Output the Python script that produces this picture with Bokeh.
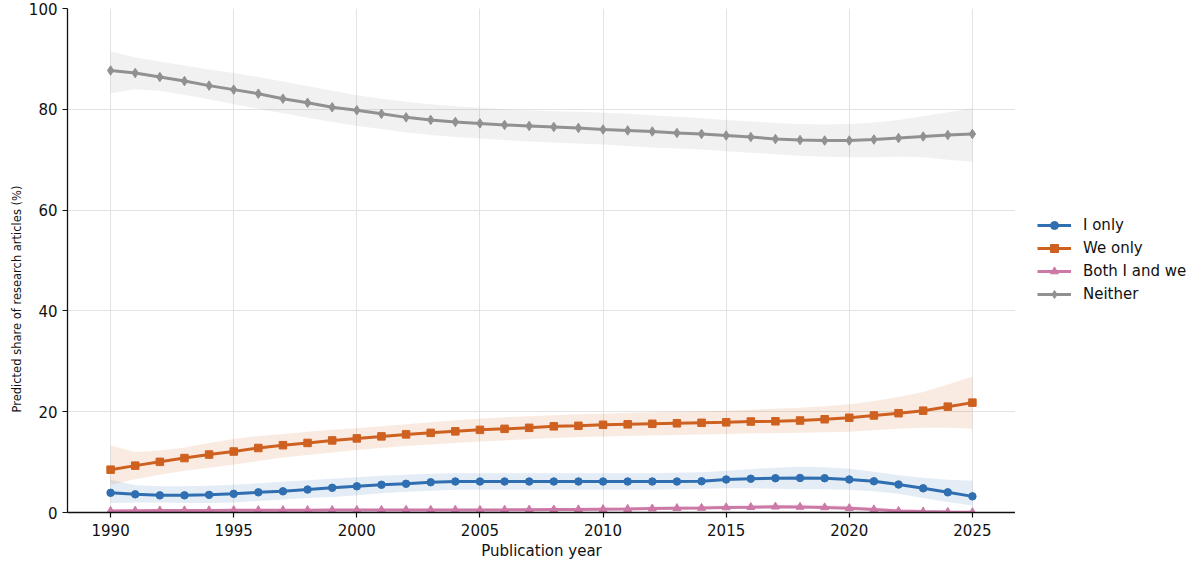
from bokeh.plotting import figure
from bokeh.models import Legend, LegendItem, FixedTicker, Range1d, Title
from bokeh.layouts import row
from bokeh.embed import file_html
from bokeh.resources import INLINE

years = list(range(1990, 2026))

i_only = [3.9, 3.6, 3.4, 3.4, 3.5, 3.7, 4.0, 4.2, 4.55, 4.9,
          5.2, 5.5, 5.7, 6.0, 6.15, 6.15, 6.15, 6.15, 6.15, 6.15,
          6.15, 6.15, 6.15, 6.15, 6.2, 6.55, 6.7, 6.8, 6.85, 6.8,
          6.55, 6.2, 5.55, 4.8, 4.0, 3.2]
i_only_hi = [6.5, 5.4, 5.2, 5.2, 5.3, 5.5, 5.8, 6.1, 6.4, 6.7,
             7.0, 7.3, 7.5, 7.7, 7.8, 7.8, 7.8, 7.8, 7.8, 7.8,
             7.8, 7.8, 7.8, 7.9, 8.0, 8.3, 8.6, 8.9, 9.1, 9.0,
             8.7, 8.1, 7.4, 6.9, 6.5, 6.3]
i_only_lo = [1.9, 2.0, 2.0, 1.9, 1.9, 2.0, 2.3, 2.6, 2.9, 3.1,
             3.4, 3.8, 4.1, 4.3, 4.5, 4.5, 4.5, 4.5, 4.5, 4.5,
             4.5, 4.5, 4.5, 4.6, 4.7, 4.8, 4.8, 4.7, 4.6, 4.6,
             4.5, 4.2, 3.7, 2.9, 2.1, 1.4]

we_only = [8.5, 9.3, 10.05, 10.8, 11.5, 12.1, 12.8, 13.35, 13.8, 14.3,
           14.7, 15.1, 15.5, 15.8, 16.1, 16.4, 16.6, 16.8, 17.1, 17.2,
           17.4, 17.5, 17.6, 17.7, 17.8, 17.9, 18.05, 18.1, 18.25, 18.5,
           18.8, 19.25, 19.7, 20.2, 21.0, 21.8]
we_only_hi = [13.3, 12.0, 12.3, 12.9, 13.8, 14.6, 15.2, 15.6, 16.0, 16.4,
              16.7, 17.1, 17.5, 17.9, 18.3, 18.6, 18.9, 19.1, 19.3, 19.5,
              19.6, 19.8, 19.9, 20.0, 20.1, 20.2, 20.4, 20.6, 20.8, 21.1,
              21.5, 22.1, 22.9, 23.9, 25.4, 27.0]
we_only_lo = [5.5, 6.6, 7.5, 8.3, 8.9, 9.5, 10.2, 10.9, 11.4, 11.9,
              12.4, 12.8, 13.2, 13.5, 13.8, 14.1, 14.3, 14.6, 14.8, 15.0,
              15.1, 15.2, 15.3, 15.4, 15.5, 15.6, 15.7, 15.7, 15.8, 15.9,
              16.0, 16.3, 16.6, 16.8, 16.8, 16.6]

both = [0.3, 0.35, 0.38, 0.4, 0.42, 0.44, 0.45, 0.46, 0.47, 0.48,
        0.48, 0.49, 0.5, 0.5, 0.5, 0.5, 0.52, 0.55, 0.58, 0.6,
        0.65, 0.7, 0.78, 0.85, 0.9, 1.0, 1.05, 1.15, 1.1, 1.0,
        0.85, 0.6, 0.3, 0.18, 0.1, 0.05]
both_hi = [0.7, 0.65, 0.65, 0.68, 0.7, 0.72, 0.73, 0.74, 0.75, 0.76,
           0.77, 0.78, 0.8, 0.8, 0.8, 0.82, 0.85, 0.88, 0.92, 0.96,
           1.02, 1.1, 1.18, 1.27, 1.35, 1.45, 1.52, 1.6, 1.58, 1.5,
           1.35, 1.05, 0.7, 0.5, 0.4, 0.35]
both_lo = [0.05, 0.1, 0.15, 0.18, 0.2, 0.22, 0.23, 0.24, 0.25, 0.26,
           0.27, 0.28, 0.29, 0.3, 0.3, 0.3, 0.32, 0.34, 0.37, 0.4,
           0.43, 0.48, 0.53, 0.58, 0.62, 0.68, 0.72, 0.75, 0.7, 0.62,
           0.5, 0.3, 0.1, 0.03, 0.0, 0.0]

neither = [87.7, 87.2, 86.4, 85.6, 84.7, 83.9, 83.1, 82.1, 81.3, 80.4,
           79.8, 79.1, 78.4, 77.9, 77.5, 77.2, 76.9, 76.7, 76.5, 76.3,
           76.0, 75.8, 75.6, 75.3, 75.1, 74.8, 74.5, 74.1, 73.9, 73.8,
           73.8, 74.0, 74.3, 74.6, 74.9, 75.1]
neither_hi = [91.5, 90.3, 89.5, 88.7, 87.9, 87.2, 86.4, 85.5, 84.6, 83.7,
              82.8, 82.1, 81.5, 81.0, 80.6, 80.3, 80.0, 79.8, 79.6, 79.5,
              79.3, 79.1, 78.8, 78.5, 78.2, 77.9, 77.6, 77.3, 77.1, 77.0,
              77.1, 77.4, 77.9, 78.6, 79.4, 80.2]
neither_lo = [83.2, 84.0, 83.7, 82.9, 82.0, 81.0, 80.1, 79.2, 78.3, 77.5,
              76.7, 76.1, 75.4, 74.9, 74.5, 74.2, 73.9, 73.6, 73.4, 73.2,
              73.0, 72.7, 72.4, 72.2, 72.0, 71.7, 71.4, 71.1, 70.8, 70.6,
              70.5, 70.5, 70.6, 70.5, 70.0, 69.6]

labels = ["I only", "We only", "Both I and we", "Neither"]
colors = ["#2f6fb1", "#cf6120", "#cc79a7", "#919191"]
markers = ["circle", "square", "triangle", "diamond"]
marker_sizes = [7.5, 7.5, 8, 9.5]

x_ticks = [1990, 1995, 2000, 2005, 2010, 2015, 2020, 2025]
y_ticks = [0, 20, 40, 60, 80, 100]

FONT = "DejaVu Sans"

p = figure(width=1015, height=566, output_backend="svg", toolbar_location=None,
           x_range=Range1d(1988.25, 2026.75), y_range=Range1d(0, 100),
           min_border_left=67, min_border_right=0, min_border_top=8, min_border_bottom=54)
p.outline_line_color = None
p.background_fill_color = "white"
p.border_fill_color = "white"

# legend panel as a separate figure to the right (its view range excludes the data,
# so the proxy renderers only show up as legend glyphs)
pl = figure(width=184, height=566, output_backend="svg", toolbar_location=None,
            x_range=Range1d(0, 1), y_range=Range1d(0, 1),
            min_border=0, x_axis_type=None, y_axis_type=None)
pl.outline_line_color = None
pl.grid.visible = False
pl.border_fill_color = "white"
pl.background_fill_color = "white"

series = [(i_only, i_only_lo, i_only_hi), (we_only, we_only_lo, we_only_hi),
          (both, both_lo, both_hi), (neither, neither_lo, neither_hi)]

items = []
for (vals, lo, hi), lab, col, mk, ms in zip(series, labels, colors, markers, marker_sizes):
    p.varea(x=years, y1=lo, y2=hi, fill_color=col, fill_alpha=0.13)
    p.line(years, vals, line_color=col, line_width=3)
    p.scatter(years, vals, marker=mk, size=ms, fill_color=col, line_color=col)
    lr = pl.line(years, vals, line_color=col, line_width=3)
    sr = pl.scatter(years, vals, marker=mk, size=ms, fill_color=col, line_color=col)
    items.append(LegendItem(label=lab, renderers=[lr, sr]))

legend = Legend(items=items, location=(22, 208))
legend.background_fill_alpha = 0
legend.border_line_color = None
legend.padding = 0
legend.margin = 0
legend.spacing = 3
legend.glyph_width = 34
legend.glyph_height = 20
legend.label_height = 20
legend.label_standoff = 12
legend.label_text_font = FONT
legend.label_text_font_size = "15px"
legend.label_text_color = "#111111"
pl.add_layout(legend, "center")

p.xaxis.ticker = FixedTicker(ticks=x_ticks)
p.yaxis.ticker = FixedTicker(ticks=y_ticks)
p.xaxis.axis_label = "Publication year"
for ax in (p.xaxis[0], p.yaxis[0]):
    ax.axis_line_color = "#111111"
    ax.axis_line_width = 1.3
    ax.major_tick_line_color = "#111111"
    ax.major_tick_line_width = 1.2
    ax.major_tick_out = 5
    ax.major_tick_in = 0
    ax.minor_tick_line_color = None
    ax.major_label_text_font = FONT
    ax.major_label_text_font_size = "15px"
    ax.major_label_text_color = "#111111"
    ax.axis_label_text_font = FONT
    ax.axis_label_text_font_style = "normal"
    ax.axis_label_text_color = "#111111"
    ax.axis_label_text_font_size = "15px"
p.xaxis.major_label_standoff = 6
p.yaxis.major_label_standoff = 5
p.xaxis.axis_label_standoff = 3

ylab = Title(text="Predicted share of research articles (%)", align="left", offset=100,
             text_font=FONT, text_font_size="11.5px", text_font_style="normal",
             text_color="#111111", standoff=4)
p.add_layout(ylab, "left")

p.grid.grid_line_color = "#e3e3e3"
p.grid.grid_line_width = 1

layout = row(p, pl, spacing=0)
open("out.html", "w").write(file_html(layout, INLINE))
